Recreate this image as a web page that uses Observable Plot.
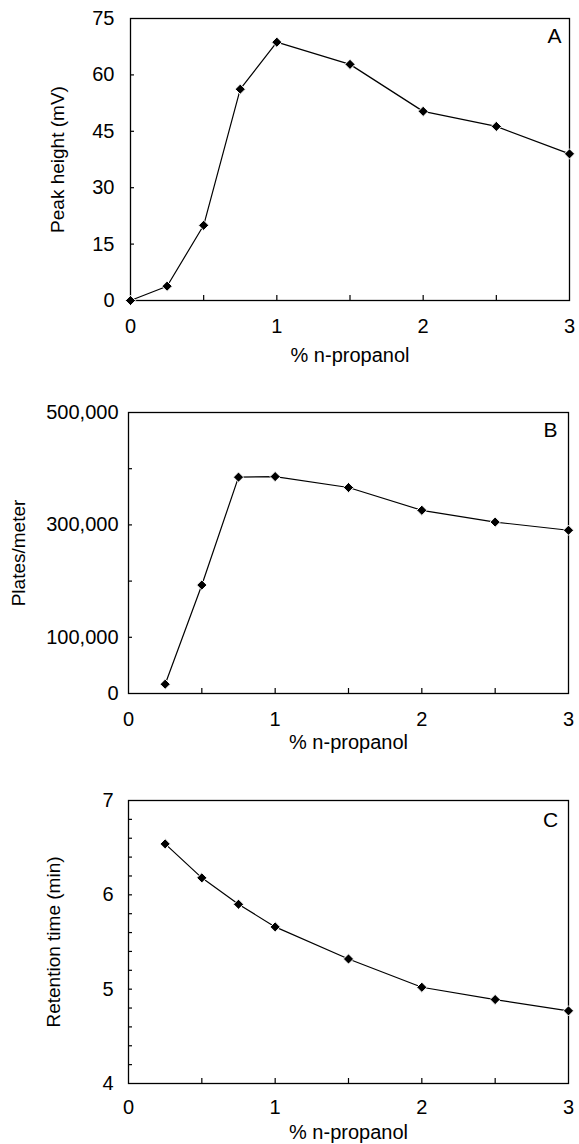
<!DOCTYPE html>
<html><head><meta charset="utf-8">
<script src="https://cdn.jsdelivr.net/npm/d3@7"></script>
<script src="https://cdn.jsdelivr.net/npm/@observablehq/plot@0.6"></script>
<style>body{margin:0;background:#fff} #chart svg{display:block}</style>
</head><body><div id="chart"></div>
<script>
// ---- data ----
const xLabel = "% n-propanol";
const xTickLabels = [0, 1, 2, 3];
const xMinorTicks = [0.5, 1, 1.5, 2, 2.5];

const concA = [0, 0.25, 0.5, 0.75, 1, 1.5, 2, 2.5, 3];
const peakHeight = [0, 3.8, 20, 56.2, 68.7, 62.8, 50.3, 46.3, 39];
const yTicksA = [0, 15, 30, 45, 60, 75];

const concB = [0.25, 0.5, 0.75, 1, 1.5, 2, 2.5, 3];
const plates = [16500, 193000, 385000, 386000, 366500, 326000, 305000, 290500];
const yTicksB = [0, 100000, 300000, 500000];
const yMinorB = [100000, 200000, 300000, 400000];

const concC = [0.25, 0.5, 0.75, 1, 1.5, 2, 2.5, 3];
const retention = [6.54, 6.18, 5.90, 5.66, 5.32, 5.02, 4.89, 4.77];
const yTicksC = [4, 5, 6, 7];
const yMinorC = [4.2, 4.4, 4.6, 4.8, 5, 5.2, 5.4, 5.6, 5.8, 6, 6.2, 6.4, 6.6, 6.8];

// ---- drawing ----
function panel(o) {
  const data = o.x.map((x, i) => ({x, y: o.y[i]}));
  return Plot.plot({
    width: 579,
    height: o.height,
    marginTop: o.mt, marginBottom: o.mb, marginLeft: o.ml, marginRight: o.mr,
    style: {fontFamily: "'Liberation Sans', Arial, sans-serif", fontSize: "19px", color: "black", background: "white"},
    x: {domain: [0, 3]},
    y: {domain: o.yDomain},
    marks: [
      Plot.frame({stroke: "black", strokeWidth: 1.3}),
      Plot.axisX({ticks: xTickLabels, tickSize: 0, tickPadding: o.xPad, tickFormat: d => String(d), label: null, fontSize: 20}),
      Plot.axisX({ticks: xMinorTicks, tickSize: -5, text: null, label: null, strokeWidth: 1.2}),
      Plot.axisY({ticks: o.yTicks, tickSize: 0, tickPadding: o.yPad, tickFormat: o.yFormat, label: null, fontSize: 20}),
      Plot.axisY({ticks: o.yMinor, tickSize: -4, text: null, label: null, strokeWidth: 1.2}),
      Plot.line(data, {x: "x", y: "y", stroke: "black", strokeWidth: 1.2}),
      Plot.dot(data, {x: "x", y: "y", symbol: "diamond2", r: 4.6, fill: "black", stroke: "white", strokeWidth: 1}),
      Plot.text([o.yLabel], {frameAnchor: "left", dx: o.yLabelDx, rotate: -90, textAnchor: "middle", lineAnchor: "middle", fill: "black"}),
      Plot.text([xLabel], {frameAnchor: "bottom", dy: o.xLabelDy, textAnchor: "middle", lineAnchor: "middle", fill: "black", fontSize: 20}),
      Plot.text([o.letter], {frameAnchor: "top-right", dx: o.letterDx, dy: o.letterDy, textAnchor: "middle", lineAnchor: "middle", fill: "black", fontSize: 21})
    ]
  });
}

const root = document.getElementById("chart");
root.append(panel({
  x: concA, y: peakHeight, yDomain: [0, 75], yTicks: yTicksA, yMinor: [15, 30, 45, 60],
  yFormat: d => String(d), yLabel: "Peak height (mV)", letter: "A",
  height: 380, mt: 18, mb: 80, ml: 130, mr: 10,
  xPad: 18, yPad: 16, yLabelDx: -73, xLabelDy: 55, letterDx: -15, letterDy: 18
}));
root.append(panel({
  x: concB, y: plates, yDomain: [0, 500000], yTicks: yTicksB, yMinor: yMinorB,
  yFormat: d3.format(","), yLabel: "Plates/meter", letter: "B",
  height: 380, mt: 32, mb: 67, ml: 128, mr: 11,
  xPad: 18, yPad: 10, yLabelDx: -110, xLabelDy: 49, letterDx: -18, letterDy: 18
}));
root.append(panel({
  x: concC, y: retention, yDomain: [4, 7], yTicks: yTicksC, yMinor: yMinorC,
  yFormat: d => String(d), yLabel: "Retention time (min)", letter: "C",
  height: 384, mt: 40, mb: 61, ml: 128, mr: 11,
  xPad: 16, yPad: 15, yLabelDx: -75, xLabelDy: 49, letterDx: -18, letterDy: 20
}));
</script>
</body></html>
